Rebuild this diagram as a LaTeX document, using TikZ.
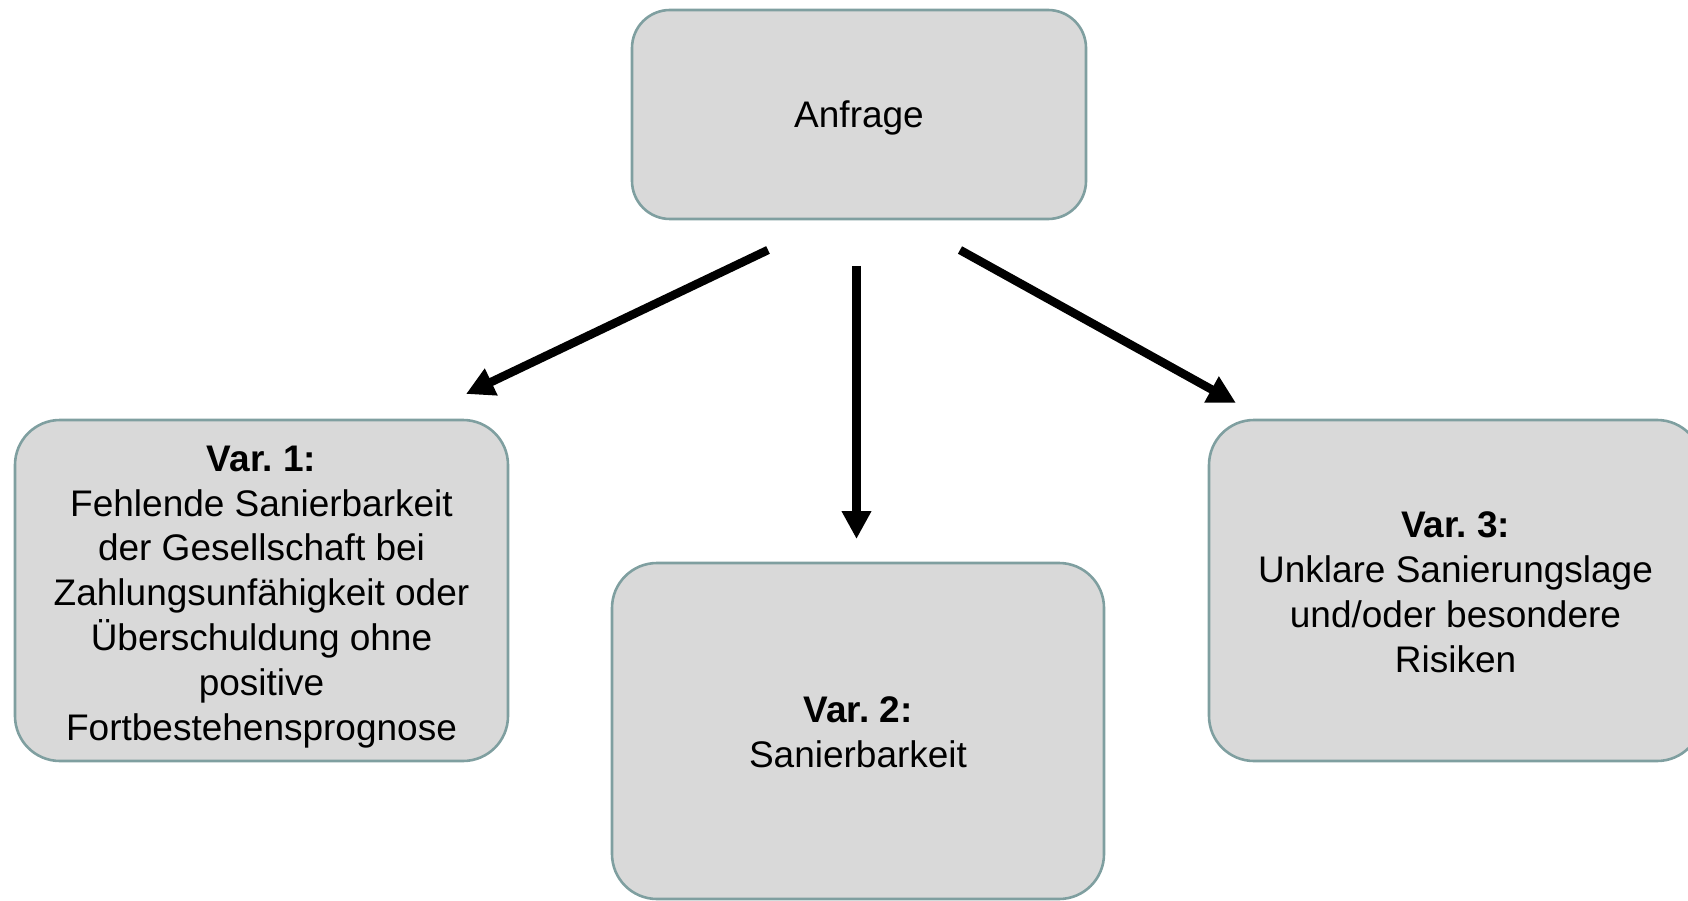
\documentclass[tikz,border=0pt]{standalone}
\usepackage{fontspec}
\setmainfont{Liberation Sans}
\usetikzlibrary{arrows.meta}
\definecolor{boxfill}{HTML}{D9D9D9}
\definecolor{boxline}{HTML}{7F9FA0}
\frenchspacing
\newcommand{\lowerby}[2]{\raisebox{-#1}[\height][\depth]{#2}}
\tikzset{
  card/.style={draw=boxline, fill=boxfill, line width=2.6pt, rounded corners=#1,
    inner sep=0pt, align=center, font=\fontsize{37}{44.9}\selectfont\frenchspacing},
  card/.default=45pt,
  flow/.style={line width=8.5pt, -{Triangle[length=28pt,width=28pt]}}
}
\begin{document}
\begin{tikzpicture}[x=1pt,y=-1pt]
\path[use as bounding box, clip] (0,0) rectangle (1688,901);
\node[card=38pt, minimum width=454pt, minimum height=209pt] (anf) at (859,114.5)
  {\lowerby{3.5pt}{Anfrage}};
\node[card, minimum width=493pt, minimum height=341pt] (v1) at (261.5,590.5)
  {\lowerby{6.5pt}{\parbox{490pt}{\centering\textbf{Var. 1:}\\Fehlende Sanierbarkeit\\der Gesellschaft bei\\Zahlungsunfähigkeit oder\\Überschuldung ohne\\positive\\Fortbestehensprognose}}};
\node[card, minimum width=492pt, minimum height=336pt] (v2) at (858,731)
  {\lowerby{1.5pt}{\parbox{490pt}{\centering\textbf{Var. 2:}\\Sanierbarkeit}}};
\node[card, minimum width=493pt, minimum height=341pt] (v3) at (1455.5,590.5)
  {\lowerby{2pt}{\parbox{490pt}{\centering\textbf{Var. 3:}\\Unklare Sanierungslage\\und/oder besondere\\Risiken}}};
\coordinate (s1) at (768,250);
\coordinate (e1) at (466,394);
\coordinate (s2) at (856.5,266);
\coordinate (e2) at (856.5,539);
\coordinate (s3) at (960,250);
\coordinate (e3) at (1236,403);
\draw[flow] (s1) -- (e1);
\draw[flow] (s2) -- (e2);
\draw[flow] (s3) -- (e3);
\end{tikzpicture}
\end{document}
